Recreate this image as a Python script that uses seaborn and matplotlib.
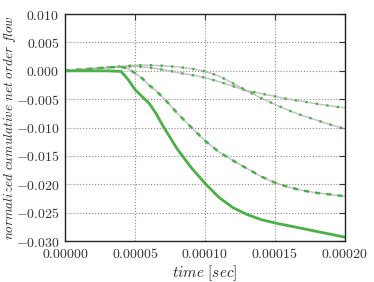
import numpy as np
import pandas as pd
import matplotlib
matplotlib.use('Agg')
import matplotlib.pyplot as plt
import matplotlib.ticker as ticker
import seaborn as sns

# time grid [sec]
t = [0.0, 0.00001, 0.00002, 0.00003, 0.00004, 0.000045, 0.00005, 0.000055,
     0.00006, 0.000065, 0.00007, 0.000075, 0.00008, 0.00009, 0.0001,
     0.00011, 0.00012, 0.00013, 0.00014, 0.00015, 0.00016, 0.00017,
     0.00018, 0.00019, 0.0002]

# normalized cumulative net order flow
flow_solid = [0.0, 0.0, 0.0, 0.0, -0.0001, -0.0015, -0.0033, -0.0045,
              -0.0057, -0.0075, -0.0097, -0.0117, -0.0137, -0.0170, -0.0198,
              -0.0223, -0.0241, -0.0253, -0.0262, -0.0268, -0.0273, -0.0278,
              -0.0283, -0.0288, -0.0293]
flow_dashed = [0.0, 0.0002, 0.0004, 0.0006, 0.0007, 0.0004, -0.0004, -0.0013,
               -0.0025, -0.0035, -0.0047, -0.0060, -0.0074, -0.0099, -0.0123,
               -0.0143, -0.0158, -0.0172, -0.0186, -0.0197, -0.0205, -0.0211,
               -0.0215, -0.0218, -0.0221]
flow_dotted_a = [0.0, 0.0002, 0.0004, 0.0006, 0.0008, 0.0009, 0.0010, 0.0010,
                 0.0010, 0.00095, 0.0009, 0.0008, 0.0007, 0.0004, -0.0001,
                 -0.0009, -0.0022, -0.0035, -0.0048, -0.0059, -0.0070,
                 -0.0079, -0.0087, -0.0095, -0.0102]
flow_dotted_b = [0.0, 0.0002, 0.0004, 0.0006, 0.0007, 0.00075, 0.0008, 0.0007,
                 0.0006, 0.0004, 0.0002, 0.0, -0.0003, -0.0007, -0.0012,
                 -0.0019, -0.0027, -0.0035, -0.0040, -0.0045, -0.0050,
                 -0.0054, -0.0058, -0.0062, -0.0065]

green = '#4caf48'

sns.set_style('white')
plt.rcParams['mathtext.fontset'] = 'cm'
plt.rcParams['font.family'] = ['DejaVu Serif']

fig = plt.figure(figsize=(3.74, 2.82), dpi=100)
ax = fig.add_axes([0.174, 0.145, 0.748, 0.805])

# the thin dotted series: gray core line with sparse green dots
for y in (flow_dotted_b, flow_dotted_a):
    sns.lineplot(x=t, y=y, ax=ax, color='#b0b0b0', lw=1.0, alpha=0.8)
    sns.lineplot(x=t, y=y, ax=ax, color=green, lw=1.7, linestyle=(0, (1, 3.5)))

# dashed series
sns.lineplot(x=t, y=flow_dashed, ax=ax, color='#b0b0b0', lw=1.0, alpha=0.8)
sns.lineplot(x=t, y=flow_dashed, ax=ax, color=green, lw=1.8, linestyle=(0, (2, 2.5)))

# solid series
sns.lineplot(x=t, y=flow_solid, ax=ax, color=green, lw=2.0)

ax.set_xlim(0, 0.0002)
ax.set_ylim(-0.030, 0.010)
ax.xaxis.set_major_locator(ticker.MultipleLocator(0.00005))
ax.yaxis.set_major_locator(ticker.MultipleLocator(0.005))
ax.xaxis.set_major_formatter(ticker.FuncFormatter(lambda v, p: '$%.5f$' % v))
ax.yaxis.set_major_formatter(ticker.FuncFormatter(
    lambda v, p: '$%.3f$' % (0.0 if abs(v) < 1e-12 else v)))
ax.tick_params(direction='in', top=True, right=True, length=4, width=0.8,
               labelsize=10, colors='#333333', pad=4)
ax.grid(True, linestyle=':', color='#888888', lw=0.8)
for s in ax.spines.values():
    s.set_color('#222222')
    s.set_linewidth(1.0)

ax.set_xlabel(r'$time\ [sec]$', fontsize=11, labelpad=2)
ax.set_ylabel(r'$normalized\ cumulative\ net\ order\ flow$', fontsize=9.5)
ax.yaxis.set_label_coords(-0.17, 0.5)

fig.savefig('out.png', dpi=100)
